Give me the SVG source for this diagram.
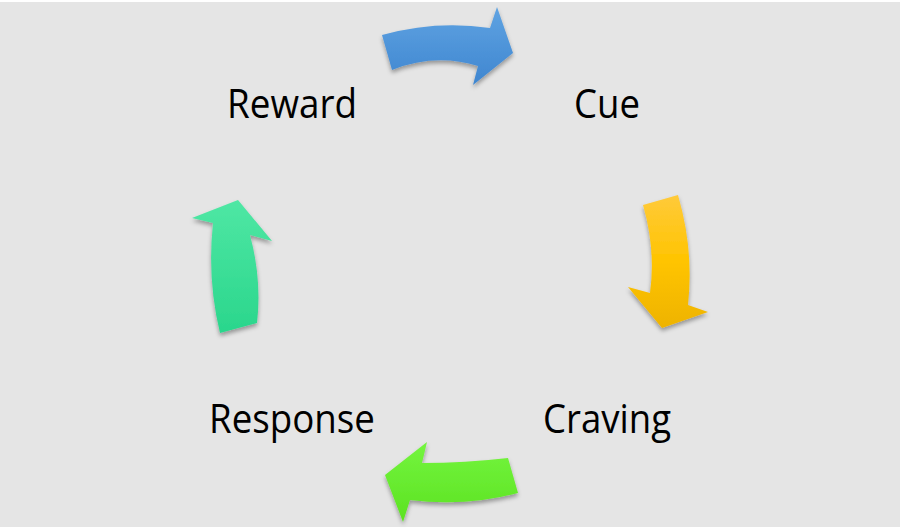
<svg xmlns="http://www.w3.org/2000/svg" width="902" height="531" viewBox="0 0 902 531">
<style>
.lbl{font-family:"Open Sans","Noto Sans","Liberation Sans",sans-serif;font-size:41px;fill:#000;}
.arr{filter:url(#sh);}
</style>
<defs>
<filter id="sh" x="-20%" y="-20%" width="140%" height="150%">
<feDropShadow dx="0" dy="3" stdDeviation="2" flood-color="#000" flood-opacity="0.35"/>
</filter>
<linearGradient id="gB" x1="0" y1="0" x2="0" y2="1"><stop offset="0" stop-color="#5fa3e2"/><stop offset="1" stop-color="#3f86d0"/></linearGradient>
<linearGradient id="gY" x1="0" y1="0" x2="0" y2="1"><stop offset="0" stop-color="#ffca3a"/><stop offset="0.5" stop-color="#ffc400"/><stop offset="1" stop-color="#eeb300"/></linearGradient>
<linearGradient id="gG" x1="0" y1="0" x2="0" y2="1"><stop offset="0" stop-color="#74f53e"/><stop offset="1" stop-color="#5ce222"/></linearGradient>
<linearGradient id="gT" x1="0" y1="0" x2="0" y2="1"><stop offset="0" stop-color="#4fe7a4"/><stop offset="1" stop-color="#2ad68c"/></linearGradient>
</defs>
<rect x="0" y="0" width="902" height="531" fill="#ffffff"/>
<rect x="0" y="2" width="900" height="525" fill="#e5e5e5"/>
<g id="connectors">
<path class="arr" fill="url(#gB)" d="M382,35 Q436,20 490,28 L497,7 L513,53 L473,85 L478,66 Q435,53 392,70 Z"/>
<path class="arr" fill="url(#gY)" d="M643,205 Q656,250 650,293 L628,287 L662,328 L708,312 L688,305 Q694,250 678,195 Z"/>
<path class="arr" fill="url(#gG)" d="M508,458 Q465,463 422,463 L427,442 L385,475 L403,522 L410,500 Q465,507 518,493 Z"/>
<path class="arr" fill="url(#gT)" d="M220,333 Q207,280 213,223 L192,218 L238,200 L272,241 L250,235 Q262,280 257,323 Z"/>
</g>
<g id="reward"><text class="lbl" x="227" y="118" textLength="130" lengthAdjust="spacingAndGlyphs">Reward</text></g>
<g id="cue"><text class="lbl" x="574" y="118" textLength="66" lengthAdjust="spacingAndGlyphs">Cue</text></g>
<g id="craving"><text class="lbl" x="543" y="433" textLength="128" lengthAdjust="spacingAndGlyphs">Craving</text></g>
<g id="response"><text class="lbl" x="209" y="433" textLength="166" lengthAdjust="spacingAndGlyphs">Response</text></g>
</svg>
